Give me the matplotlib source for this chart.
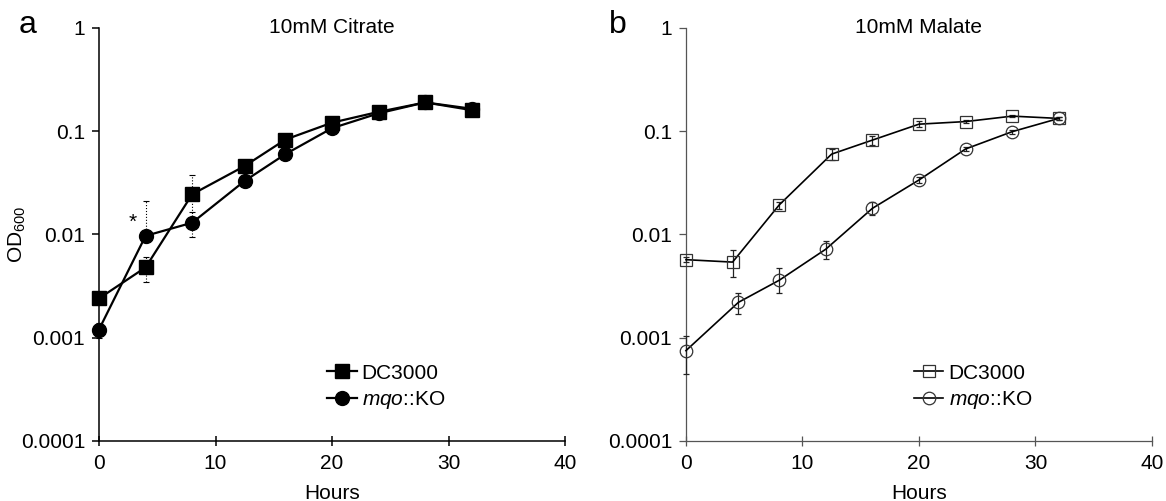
import numpy as np
import matplotlib
matplotlib.use('Agg')
import matplotlib.pyplot as plt
from matplotlib.ticker import FixedLocator, FixedFormatter, NullLocator

plt.rcParams['font.family'] = ['Liberation Sans', 'DejaVu Sans']
plt.rcParams['mathtext.fontset'] = 'custom'
plt.rcParams['mathtext.rm'] = 'Liberation Sans'
plt.rcParams['mathtext.it'] = 'Liberation Sans:italic'
plt.rcParams['mathtext.default'] = 'regular'

# panel a: 10mM Citrate
t_a_dc = [0, 4, 8, 12.5, 16, 20, 24, 28, 32]
od_a_dc = [0.0024, 0.0048, 0.0245, 0.046, 0.083, 0.121, 0.154, 0.19, 0.16]
lo_a_dc = [0.0002, 0.0013, 0.013, 0.003, 0.004, 0.005, 0.006, 0.007, 0.006]
hi_a_dc = [0.0002, 0.0013, 0.013, 0.003, 0.004, 0.005, 0.006, 0.007, 0.006]

t_a_ko = [0, 4, 8, 12.5, 16, 20, 24, 28, 32]
od_a_ko = [0.0012, 0.0097, 0.013, 0.033, 0.06, 0.107, 0.149, 0.19, 0.165]
lo_a_ko = [0.0002, 0.001, 0.0036, 0.002, 0.003, 0.004, 0.005, 0.006, 0.005]
hi_a_ko = [0.0002, 0.0115, 0.0036, 0.002, 0.003, 0.004, 0.005, 0.006, 0.005]

# panel b: 10mM Malate
t_b_dc = [0, 4, 8, 12.5, 16, 20, 24, 28, 32]
od_b_dc = [0.0057, 0.0054, 0.0193, 0.06, 0.082, 0.117, 0.124, 0.14, 0.133]
lo_b_dc = [0.0003, 0.0015, 0.0015, 0.007, 0.008, 0.008, 0.004, 0.004, 0.004]
hi_b_dc = [0.0003, 0.0017, 0.0015, 0.007, 0.008, 0.008, 0.004, 0.004, 0.004]

t_b_ko = [0, 4.5, 8, 12, 16, 20, 24, 28, 32]
od_b_ko = [0.00075, 0.0022, 0.0036, 0.0072, 0.0179, 0.0337, 0.0673, 0.099, 0.133]
lo_b_ko = [0.0003, 0.0005, 0.0009, 0.0014, 0.0025, 0.002, 0.003, 0.004, 0.004]
hi_b_ko = [0.0003, 0.0005, 0.0011, 0.0015, 0.0025, 0.002, 0.003, 0.004, 0.004]

yticks = [0.0001, 0.001, 0.01, 0.1, 1]
ytick_labels = ['0.0001', '0.001', '0.01', '0.1', '1']
xticks = [0, 10, 20, 30, 40]
fs = 15

fig = plt.figure(figsize=(11.66, 5.01), dpi=100)
ax_a = fig.add_axes([0.0849, 0.1198, 0.3997, 0.8244])
ax_b = fig.add_axes([0.5883, 0.1198, 0.3997, 0.8244])


def setup(ax, title, spine_color, spine_lw):
    ax.set_yscale('log')
    ax.set_xlim(0, 40)
    ax.set_ylim(0.0001, 1)
    ax.yaxis.set_major_locator(FixedLocator(yticks))
    ax.yaxis.set_major_formatter(FixedFormatter(ytick_labels))
    ax.yaxis.set_minor_locator(NullLocator())
    ax.set_xticks(xticks)
    for s in ['top', 'right']:
        ax.spines[s].set_visible(False)
    for s in ['left', 'bottom']:
        ax.spines[s].set_color(spine_color)
        ax.spines[s].set_linewidth(spine_lw)
    ax.tick_params(axis='y', direction='out', length=5, width=spine_lw,
                   color=spine_color, labelsize=fs, pad=5)
    ax.tick_params(axis='x', direction='inout', length=7, width=spine_lw,
                   color=spine_color, labelsize=fs, pad=6)
    ax.set_xlabel('Hours', fontsize=fs, labelpad=8)
    ax.text(0.5, 0.988, title, transform=ax.transAxes, ha='center',
            va='baseline', fontsize=fs)


setup(ax_a, '10mM Citrate', 'black', 1.1)
setup(ax_b, '10mM Malate', '#555555', 0.9)
ax_a.set_ylabel('OD$_{600}$', fontsize=fs)
ax_a.yaxis.set_label_coords(-0.152, 0.5)

# panel a series, filled markers
for t, od, lo, hi, mk, lab in [
        (t_a_dc, od_a_dc, lo_a_dc, hi_a_dc, 's', 'DC3000'),
        (t_a_ko, od_a_ko, lo_a_ko, hi_a_ko, 'o', r'$\it{mqo}$::KO')]:
    eb = ax_a.errorbar(t, od, yerr=[lo, hi], fmt='-', marker=mk, color='black',
                       ms=10, lw=1.6, ecolor='black', elinewidth=0.8,
                       capsize=2.5, capthick=0.8, label=lab, clip_on=False,
                       zorder=3)
    for bar in eb[2]:
        bar.set_linestyle(':')

ax_a.annotate('*', (t_a_ko[1], od_a_ko[1]), xytext=(-9, 3),
              textcoords='offset points', ha='center', va='bottom',
              fontsize=fs)

# panel b series, open markers
for t, od, lo, hi, mk, lab in [
        (t_b_dc, od_b_dc, lo_b_dc, hi_b_dc, 's', 'DC3000'),
        (t_b_ko, od_b_ko, lo_b_ko, hi_b_ko, 'o', r'$\it{mqo}$::KO')]:
    ax_b.errorbar(t, od, yerr=[lo, hi], fmt='-', marker=mk, color='black',
                  mfc='none', mec='#333333', mew=0.9, ms=9, lw=1.2,
                  ecolor='#222222', elinewidth=0.9, capsize=2.5,
                  capthick=0.9, label=lab, clip_on=False, zorder=3)

for ax in (ax_a, ax_b):
    h, l = ax.get_legend_handles_labels()
    h = [x[0] for x in h]
    ax.legend(h, l, loc='center left', bbox_to_anchor=(0.49, 0.13),
              frameon=False, fontsize=fs, handlelength=1.4,
              handletextpad=0.25, labelspacing=0.3, borderpad=0,
              borderaxespad=0)

fig.text(19 / 1166, 1 - 33 / 501, 'a', fontsize=23,
         va='baseline', ha='left')
fig.text(609 / 1166, 1 - 33 / 501, 'b', fontsize=23,
         va='baseline', ha='left')

fig.savefig('out.png', dpi=100)
